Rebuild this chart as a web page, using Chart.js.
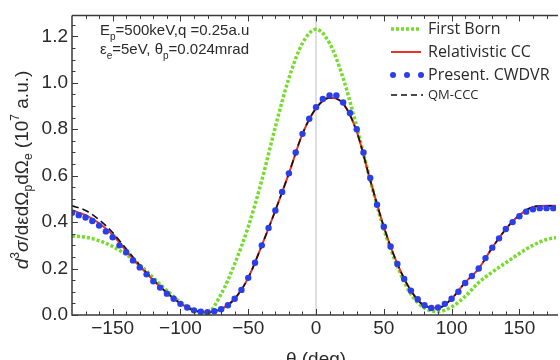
<!DOCTYPE html>
<html>
<head>
<meta charset="utf-8">
<script src="https://cdn.jsdelivr.net/npm/chart.js@4.4.0/dist/chart.umd.min.js"></script>
<style>
  html, body { margin: 0; padding: 0; background: #fff; }
  #wrap { width: 560px; height: 360px; }
</style>
</head>
<body>
<div id="wrap"><canvas id="chart" width="560" height="360"></canvas></div>
<script>
// angles (deg) for the line curves
const thetaLines = [-180, -170, -160, -150, -140, -130, -120, -110, -100, -90, -80, -70, -60, -50, -40, -30, -20, -10,
  0, 10, 20, 30, 40, 50, 60, 70, 80, 90, 100, 110, 120, 130, 140, 150, 160, 170, 180];

const firstBorn = [0.34, 0.335, 0.32, 0.295, 0.26, 0.215, 0.16, 0.105, 0.055, 0.02, 0.012, 0.09, 0.22, 0.38, 0.58, 0.81, 1.02, 1.17,
  1.23, 1.17, 1.02, 0.81, 0.58, 0.37, 0.21, 0.09, 0.03, 0.015, 0.035, 0.08, 0.14, 0.185, 0.225, 0.265, 0.30, 0.325, 0.335];

const relativisticCC = [0.45, 0.43, 0.395, 0.345, 0.275, 0.21, 0.15, 0.095, 0.05, 0.02, 0.012, 0.025, 0.07, 0.16, 0.30, 0.45, 0.61, 0.78,
  0.89, 0.935, 0.91, 0.79, 0.58, 0.38, 0.22, 0.105, 0.04, 0.03, 0.07, 0.14, 0.20, 0.29, 0.37, 0.43, 0.465, 0.47, 0.47];

const qmCCC = [0.47, 0.45, 0.41, 0.355, 0.285, 0.215, 0.152, 0.096, 0.05, 0.02, 0.012, 0.025, 0.07, 0.16, 0.30, 0.45, 0.61, 0.78,
  0.89, 0.935, 0.91, 0.79, 0.58, 0.38, 0.22, 0.105, 0.04, 0.03, 0.07, 0.14, 0.20, 0.29, 0.37, 0.43, 0.465, 0.47, 0.47];

// angles (deg) for the CWDVR points
const thetaPoints = [-180, -175, -170, -165, -160, -155, -150, -145, -140, -135, -130, -125, -120, -115, -110, -105, -100, -95,
  -90, -85, -80, -75, -70, -65, -60, -55, -50, -45, -40, -35, -30, -25, -20, -15, -10, -5,
  0, 5, 10, 15, 20, 25, 30, 35, 40, 45, 50, 55, 60, 65, 70, 75, 80, 85,
  90, 95, 100, 105, 110, 115, 120, 125, 130, 135, 140, 145, 150, 155, 160, 165, 170, 175];

const presentCWDVR = [0.44, 0.43, 0.42, 0.405, 0.385, 0.36, 0.335, 0.30, 0.27, 0.235, 0.205, 0.175, 0.145, 0.118, 0.092, 0.07, 0.048, 0.032,
  0.02, 0.014, 0.012, 0.016, 0.025, 0.042, 0.07, 0.108, 0.16, 0.225, 0.30, 0.375, 0.45, 0.53, 0.61, 0.70, 0.78, 0.845,
  0.895, 0.93, 0.945, 0.945, 0.915, 0.87, 0.80, 0.70, 0.59, 0.475, 0.38, 0.295, 0.22, 0.155, 0.105, 0.068, 0.042, 0.03,
  0.032, 0.048, 0.07, 0.10, 0.138, 0.168, 0.20, 0.245, 0.29, 0.33, 0.37, 0.40, 0.425, 0.445, 0.455, 0.46, 0.46, 0.46];

const xTickValues = [-150, -100, -50, 0, 50, 100, 150];
const yTickValues = [0, 0.2, 0.4, 0.6, 0.8, 1.0, 1.2];
const seriesLabels = ["First Born", "Relativistic CC", "Present. CWDVR", "QM-CCC"];

const colors = {
  green: "#74dc2a",
  red: "#e8302c",
  blue: "#2a3fe8",
  black: "#111111",
  axis: "#3a3a3a",
  text: "#2a2a2a"
};

function toPoints(xs, ys) {
  return xs.map((x, i) => ({ x: x, y: ys[i] }));
}

function drawRuns(ctx, runs, x, y) {
  // draws text runs with sub/superscripts, left aligned from x
  let cx = x;
  runs.forEach((r) => {
    ctx.font = r.font;
    ctx.fillText(r.t, cx, y + (r.dy || 0));
    cx += ctx.measureText(r.t).width;
  });
  return cx;
}

function runsWidth(ctx, runs) {
  let w = 0;
  runs.forEach((r) => {
    ctx.font = r.font;
    w += ctx.measureText(r.t).width;
  });
  return w;
}

const decorPlugin = {
  id: "decor",
  beforeDatasetsDraw(chart) {
    const ctx = chart.ctx;
    const area = chart.chartArea;
    const x0 = chart.scales.x.getPixelForValue(0);
    ctx.save();
    ctx.strokeStyle = "#d4d4d4";
    ctx.lineWidth = 1.5;
    ctx.beginPath();
    ctx.moveTo(x0, area.top);
    ctx.lineTo(x0, area.bottom);
    ctx.stroke();
    ctx.restore();
  },
  afterDatasetsDraw(chart) {
    const ctx = chart.ctx;
    const area = chart.chartArea;
    const xs = chart.scales.x;
    const ys = chart.scales.y;
    ctx.save();
    ctx.strokeStyle = colors.axis;
    ctx.lineWidth = 1.5;
    ctx.beginPath();
    ctx.moveTo(area.left, area.top);
    ctx.lineTo(area.right + 2, area.top);
    ctx.moveTo(area.left, area.top);
    ctx.lineTo(area.left, area.bottom);
    ctx.lineTo(area.right + 2, area.bottom);
    ctx.stroke();

    ctx.lineWidth = 1;
    ctx.beginPath();
    for (let v = -180; v <= 180; v += 10) {
      const px = Math.round(xs.getPixelForValue(v)) + 0.5;
      if (px < area.left + 1 || px > area.right) continue;
      const len = v % 50 === 0 ? 6 : 3.5;
      ctx.moveTo(px, area.bottom);
      ctx.lineTo(px, area.bottom - len);
      ctx.moveTo(px, area.top);
      ctx.lineTo(px, area.top + len);
    }
    for (let k = 0; k <= 25; k++) {
      const v = k * 0.05;
      const py = Math.round(ys.getPixelForValue(v)) + 0.5;
      if (py < area.top + 1) continue;
      const len = k % 4 === 0 ? 6 : 3.5;
      ctx.moveTo(area.left, py);
      ctx.lineTo(area.left + len, py);
    }
    ctx.stroke();
    ctx.restore();
  },
  afterDraw(chart) {
    const ctx = chart.ctx;
    const area = chart.chartArea;
    ctx.save();
    ctx.fillStyle = colors.text;
    ctx.textBaseline = "middle";
    ctx.textAlign = "left";

    // parameter text
    const f = "15px 'Liberation Sans', Arial, sans-serif";
    const fs = "10px 'Liberation Sans', Arial, sans-serif";
    drawRuns(ctx, [
      { t: "E", font: f },
      { t: "p", font: fs, dy: 6 },
      { t: "=500keV,q =0.25a.u", font: f }
    ], 100, 31);
    drawRuns(ctx, [
      { t: "\u03b5", font: f },
      { t: "e", font: fs, dy: 6 },
      { t: "=5eV, \u03b8", font: f },
      { t: "p", font: fs, dy: 6 },
      { t: "=0.024mrad", font: f }
    ], 100, 50);

    // x axis title (cut by the bottom edge)
    ctx.font = "19px 'Liberation Sans', Arial, sans-serif";
    ctx.textAlign = "center";
    ctx.fillText("\u03b8 (deg)", (area.left + area.right) / 2 + 2, 360);

    // y axis title
    const yf = "italic 19px 'Liberation Sans', Arial, sans-serif";
    const yn = "19px 'Liberation Sans', Arial, sans-serif";
    const ysml = "12px 'Liberation Sans', Arial, sans-serif";
    const runs = [
      { t: "d", font: yf },
      { t: "3", font: ysml, dy: -7 },
      { t: "\u03c3", font: yf },
      { t: "/d\u03b5d\u03a9", font: yn },
      { t: "p", font: ysml, dy: 6 },
      { t: "d\u03a9", font: yn },
      { t: "e", font: ysml, dy: 6 },
      { t: " (10", font: yn },
      { t: "7", font: ysml, dy: -7 },
      { t: " a.u.)", font: yn }
    ];
    ctx.textAlign = "left";
    ctx.translate(23, 170);
    ctx.rotate(-Math.PI / 2);
    drawRuns(ctx, runs, -runsWidth(ctx, runs) / 2, 0);
    ctx.setTransform(1, 0, 0, 1, 0, 0);

    // legend
    const lx0 = 391;
    const lx1 = 421;
    const rows = [29, 52, 75, 95];
    ctx.lineCap = "butt";
    ctx.strokeStyle = colors.green;
    ctx.lineWidth = 3.5;
    ctx.setLineDash([3, 2]);
    ctx.beginPath();
    ctx.moveTo(lx0, rows[0]);
    ctx.lineTo(lx1, rows[0]);
    ctx.stroke();
    ctx.setLineDash([]);
    ctx.strokeStyle = colors.red;
    ctx.lineWidth = 2;
    ctx.beginPath();
    ctx.moveTo(lx0, rows[1]);
    ctx.lineTo(lx1, rows[1]);
    ctx.stroke();
    ctx.fillStyle = colors.blue;
    [393, 407, 421].forEach((cx) => {
      ctx.beginPath();
      ctx.arc(cx, rows[2], 3, 0, Math.PI * 2);
      ctx.fill();
    });
    ctx.strokeStyle = colors.black;
    ctx.lineWidth = 1.6;
    ctx.setLineDash([6, 4]);
    ctx.beginPath();
    ctx.moveTo(lx0, rows[3]);
    ctx.lineTo(lx1 + 2, rows[3]);
    ctx.stroke();
    ctx.setLineDash([]);

    ctx.fillStyle = colors.text;
    ctx.font = "16px 'Open Sans', sans-serif";
    ctx.fillText(seriesLabels[0], 428, rows[0]);
    ctx.fillText(seriesLabels[1], 428, rows[1]);
    ctx.fillText(seriesLabels[2], 428, rows[2]);
    ctx.font = "13px 'Open Sans', sans-serif";
    ctx.fillText(seriesLabels[3], 428, rows[3]);
    ctx.restore();
  }
};

new Chart(document.getElementById("chart"), {
  type: "line",
  data: {
    datasets: [
      {
        label: seriesLabels[0],
        data: toPoints(thetaLines, firstBorn),
        borderColor: colors.green,
        borderWidth: 3.5,
        borderDash: [3, 2],
        borderCapStyle: "butt",
        pointRadius: 0,
        cubicInterpolationMode: "monotone",
        order: 4
      },
      {
        label: seriesLabels[1],
        data: toPoints(thetaLines, relativisticCC),
        borderColor: colors.red,
        borderWidth: 2,
        pointRadius: 0,
        cubicInterpolationMode: "monotone",
        order: 3
      },
      {
        label: seriesLabels[2],
        data: toPoints(thetaPoints, presentCWDVR),
        borderColor: colors.blue,
        backgroundColor: colors.blue,
        showLine: false,
        pointRadius: 3.2,
        pointBorderWidth: 0,
        order: 1
      },
      {
        label: seriesLabels[3],
        data: toPoints(thetaLines, qmCCC),
        borderColor: colors.black,
        borderWidth: 1.6,
        borderDash: [7, 4],
        pointRadius: 0,
        cubicInterpolationMode: "monotone",
        order: 2
      }
    ]
  },
  options: {
    responsive: false,
    animation: false,
    layout: { padding: { top: 5, right: 0, left: 0, bottom: 0 } },
    plugins: {
      legend: { display: false },
      tooltip: { enabled: false }
    },
    scales: {
      x: {
        type: "linear",
        min: -180,
        max: 177,
        grid: { display: false, drawTicks: false },
        border: { display: false },
        afterBuildTicks: (scale) => {
          scale.ticks = xTickValues.map((v) => ({ value: v }));
        },
        afterFit: (scale) => {
          scale.height = 45;
        },
        ticks: {
          padding: 2,
          maxRotation: 0,
          autoSkip: false,
          color: colors.text,
          font: { family: "'Liberation Sans', Arial, sans-serif", size: 19 },
          callback: (v) => (v < 0 ? "\u2212" + Math.abs(v) : String(v))
        }
      },
      y: {
        min: 0,
        max: 1.29,
        grid: { display: false, drawTicks: false },
        border: { display: false },
        afterBuildTicks: (scale) => {
          scale.ticks = yTickValues.map((v) => ({ value: v }));
        },
        afterFit: (scale) => {
          scale.width = 72;
        },
        ticks: {
          padding: 4,
          color: colors.text,
          font: { family: "'Liberation Sans', Arial, sans-serif", size: 19 },
          callback: (v) => Number(v).toFixed(1)
        }
      }
    }
  },
  plugins: [decorPlugin]
});
</script>
</body>
</html>
